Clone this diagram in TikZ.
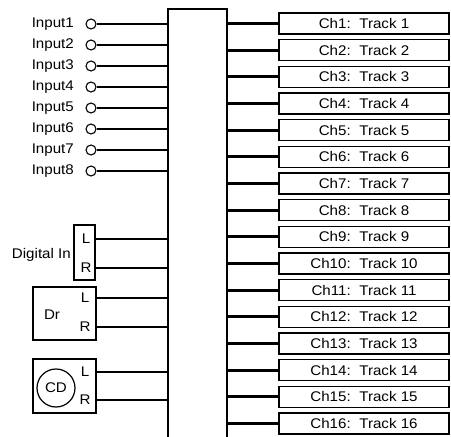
\documentclass[tikz,border=0pt]{standalone}
\usepackage{fontspec}
\setmainfont[FakeStretch=1.08]{Liberation Sans}
\begin{document}
\begin{tikzpicture}[x=1pt,y=-1pt,
  lbl/.style={font=\fontsize{14}{16}\selectfont, inner sep=0pt},
  jack/.style={circle,draw,line width=1.1pt,minimum size=10pt,inner sep=0pt},
  track/.style={draw,line width=1.3pt,minimum width=170pt,minimum height=21pt,inner sep=0pt,font=\fontsize{14}{16}\selectfont},
  wire/.style={line width=1.1pt},
  fat/.style={line width=2.8pt},
  srcbox/.style={draw,line width=1.2pt,inner sep=0pt}]
\useasboundingbox (0,0) rectangle (451,437);
% mixer block (open at bottom)
\coordinate (busL) at (168,9);
\coordinate (busR) at (227,9);
\coordinate (busLb) at (168,437);
\coordinate (busRb) at (227,437);
\draw[line width=1.2pt] (busLb) -- (busL) -- (busR) -- (busRb);
% analog inputs
\foreach \i/\y in {1/24,2/45,3/66,4/87,5/108,6/129,7/150,8/171} {
  \node[jack] (in\i) at (91,\y) {};
  \node[lbl,anchor=east] (lab\i) at (74,\y) {Input\i};
  \draw[wire] (in\i.east) -- (in\i.east -| busL);
}
% digital in
\node[srcbox,minimum width=21pt,minimum height=55pt] (dig) at (84.5,252.5) {};
\node[lbl] (digL) at (86,239) {L};
\node[lbl] (digR) at (86,268) {R};
\node[lbl,anchor=east] (diglab) at (71,255) {Digital In};
\draw[wire] (digL -| dig.east) -- (digL -| busL);
\draw[wire] (digR -| dig.east) -- (digR -| busL);
% Dr
\node[srcbox,minimum width=63pt,minimum height=53pt] (dr) at (64.5,313.5) {};
\node[lbl] (drlab) at (52,315) {Dr};
\node[lbl] (drL) at (85,298) {L};
\node[lbl] (drR) at (85,327) {R};
\draw[wire] (drL -| dr.east) -- (drL -| busL);
\draw[wire] (drR -| dr.east) -- (drR -| busL);
% CD
\node[srcbox,minimum width=63pt,minimum height=54pt] (cd) at (64.5,386) {};
\node[circle,draw,line width=1.2pt,minimum size=38pt,inner sep=0pt,font=\fontsize{14}{16}\selectfont] (cdlab) at (56,388) {CD};
\node[lbl] (cdL) at (85,372) {L};
\node[lbl] (cdR) at (85,400) {R};
\draw[wire] (cdL -| cd.east) -- (cdL -| busL);
\draw[wire] (cdR -| cd.east) -- (cdR -| busL);
% tracks
\foreach \i in {1,...,16} {
  \pgfmathsetmacro\yy{23.5+26.67*(\i-1)}
  \node[track] (t\i) at (364,\yy) {Ch\i:\hspace{3pt} Track \i};
  \draw[fat] (t\i.west -| busR) -- (t\i.west);
}
\end{tikzpicture}
\end{document}
